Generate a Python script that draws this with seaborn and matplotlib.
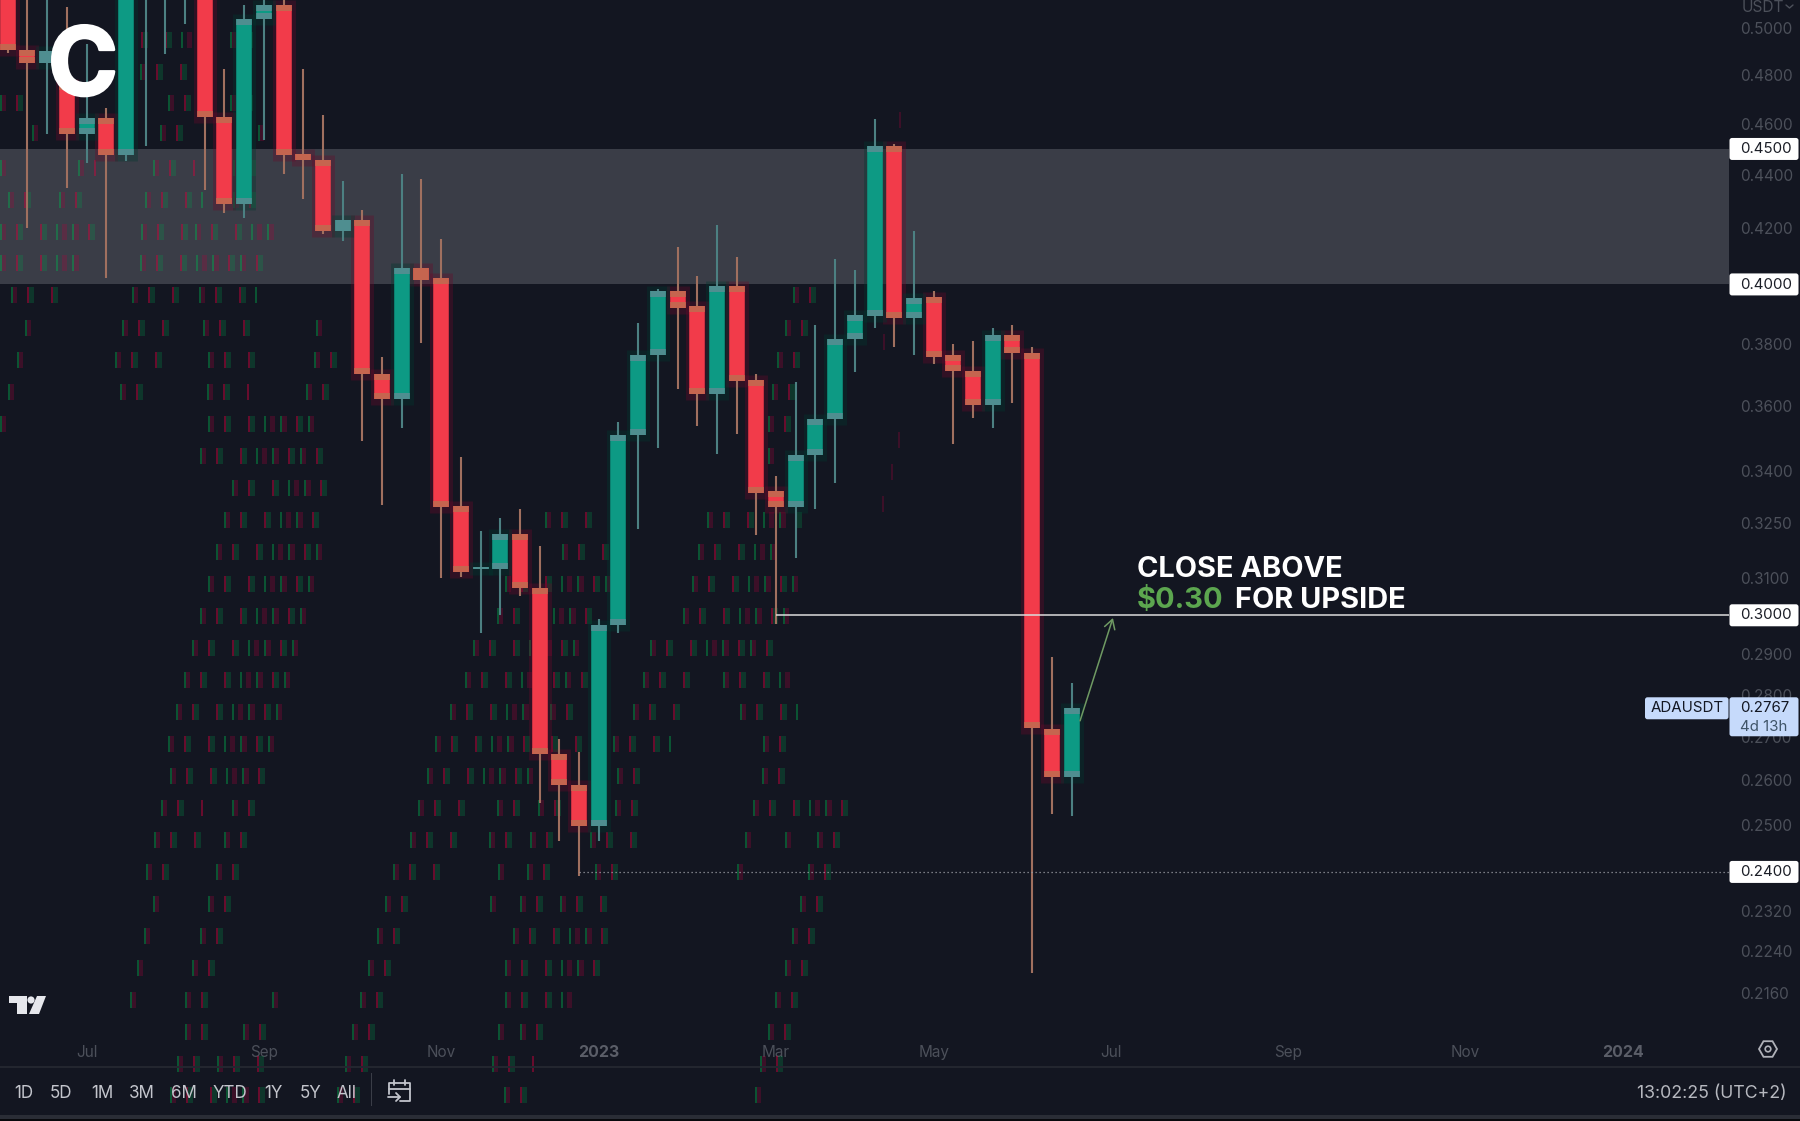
import matplotlib
matplotlib.use("Agg")
import matplotlib.pyplot as plt
import matplotlib.patheffects as pe
import numpy as np
import pandas as pd
import seaborn as sns
from matplotlib.collections import PolyCollection
from matplotlib.lines import Line2D
from matplotlib.patches import Circle, FancyBboxPatch, Polygon, Rectangle, RegularPolygon
from matplotlib.transforms import IdentityTransform

# ------------------------------------------------------------------ data
opens = [.5300,.4903,.4848,.4760,.4557,.4621,.4475,.5200,.5200,.5250,.5500,.4625,.4288,.5037,.5098,
         .4479,.4457,.4192,.4229,.3699,.3620,.4056,.4021,.3299,.3123,.3124,.3219,.3072,.2660,.2589,
         .2498,.2975,.3508,.3761,.3976,.3924,.3636,.3993,.3682,.3341,.3296,.3448,.3559,.3813,.3890,
         .4510,.3884,.3955,.3761,.3709,.3601,.3827,.3767,.2718,.2606]
closes = [.4903,.4848,.4899,.4557,.4621,.4475,.5400,.5500,.5400,.5500,.4625,.4288,.5037,.5098,.4475,
          .4457,.4192,.4229,.3699,.3620,.4056,.4017,.3296,.3115,.3128,.3219,.3072,.2660,.2589,.2498,
          .2975,.3508,.3761,.3976,.3920,.3636,.3993,.3679,.3338,.3296,.3448,.3559,.3813,.3894,.4510,
          .3884,.3952,.3757,.3709,.3601,.3827,.3767,.2720,.2606,.2767]
highs = [.5600,.5400,.5300,.5090,.4928,.4662,.5600,.5700,.5600,.5700,.5600,.4822,.5098,.5200,.5200,
         .4822,.4634,.4377,.4266,.3757,.4402,.4383,.4162,.3442,.3228,.3264,.3290,.3186,.2694,.2664,
         .2990,.3550,.3868,.3985,.4132,.4028,.4211,.4095,.3699,.3386,.3674,.3863,.4091,.4049,.4617,
         .4520,.4192,.3976,.3797,.3807,.3850,.3863,.3787,.2893,.2829]
lows = [.4890,.4200,.4557,.4348,.4444,.4021,.4453,.4510,.4886,.5015,.4344,.4255,.4237,.4537,.4402,
        .4310,.4178,.4155,.3491,.3301,.3530,.3800,.3099,.3101,.2954,.3000,.3051,.2549,.2466,.2392,
        .2466,.2954,.3233,.3469,.3651,.3536,.3451,.3511,.3216,.2977,.3153,.3290,.3365,.3706,.3850,
        .3787,.3761,.3732,.3481,.3562,.3532,.3607,.2199,.2525,.2520]

price_ticks = [.50,.48,.46,.44,.42,.38,.36,.34,.325,.31,.29,.28,.27,.26,.25,.232,.224,.216]
price_tick_labels = ["0.5000","0.4800","0.4600","0.4400","0.4200","0.3800","0.3600","0.3400","0.3250",
                     "0.3100","0.2900","0.2800","0.2700","0.2600","0.2500","0.2320","0.2240","0.2160"]
level_tags = [.45,.40,.30,.24]
level_tag_labels = ["0.4500","0.4000","0.3000","0.2400"]
zone = (.40,.45)
last_price = .2767

month_pos = [4,13,22,30,39,47,56,65,74,82]
month_labels = ["Jul","Sep","Nov","2023","Mar","May","Jul","Sep","Nov","2024"]
ranges = ["1D","5D","1M","3M","6M","YTD","1Y","5Y","All"]
range_x = [24,61,102,142,184,230,273,311,347]

# compression ghosts of the screenshot: row -> spans of faint ticks
ghost_rows = {
    40:[(125,195),(230,268)], 72:[(140,195)], 103:[(0,30),(168,195),(230,268)], 133:[(32,42),(160,195),(258,272)],
    168:[(0,10),(78,96),(153,195),(233,264)], 200:[(8,38),(59,98),(145,207),(233,256)],
    232:[(0,92),(141,184),(195,272)], 263:[(0,88),(140,264)], 295:[(11,63),(132,184),(199,256),(793,832)],
    328:[(25,29),(122,176),(203,256),(316,322),(785,823)], 360:[(17,22),(115,168),(208,256),(314,333),(777,815)],
    392:[(8,12),(120,157),(207,249),(306,325),(772,807)], 424:[(0,8),(208,318),(768,800)], 456:[(200,330),(768,775)],
    488:[(232,328)], 520:[(224,320),(545,590),(707,800)], 552:[(216,318),(562,610),(698,780)],
    584:[(208,312),(505,607),(692,800)], 616:[(200,303),(497,597),(683,790)], 648:[(192,295),(473,587),(650,783)],
    680:[(184,287),(465,587),(643,697),(723,790)], 712:[(176,279),(450,577),(633,680),(740,800)],
    744:[(168,272),(435,583),(613,672),(763,800)], 776:[(170,265),(427,533),(617,655),(762,800)],
    808:[(161,203),(232,255),(418,463),(497,517),(538,567),(615,647),(753,847)],
    840:[(154,197),(224,247),(410,455),(489,508),(530,560),(590,638),(745,750),(785,790),(817,837)],
    872:[(146,167),(216,238),(393,447),(498,503),(527,553),(595,625),(737,745),(808,830)],
    904:[(153,158),(208,238),(385,415),(490,495),(520,545),(560,612),(800,822)],
    936:[(144,150),(200,229),(377,407),(513,610),(792,815)], 968:[(137,143),(192,222),(368,398),(505,600),(785,805)],
    1000:[(130,135),(185,223),(272,274),(360,390),(505,575),(775,800)], 1032:[(185,215),(243,270),(352,383),(498,502),(520,542),(768,790)],
    1064:[(177,207),(217,263),(345,367),(492,533),(760,785)], 1095:[(170,268),(337,357),(504,525),(755,765)],
}
ghost_motif = [(0,1.5,'G'),(1.5,4,'r'),(16,2,'R'),(18,5,'g'),(40,2,'R'),(42,5,'g'),
               (56,1.5,'G'),(62,5,'r'),(72,1.5,'G'),(74,5,'r'),(88,2,'R'),(90,5,'g')]
ghost_colors = {'R':(.84,0,.24,.44),'r':(.70,0,.24,.26),'G':(0,.70,.31,.40),'g':(0,.62,.31,.24)}
ghost_lone = [(899,120),(883,342),(898,440),(891,472),(882,504)]

# ------------------------------------------------------------------ style
BG = '#131621'
RED, GREEN = '#F23B4A', '#0D9A84'
RED_WICK, GREEN_WICK = '#A0705F', '#4C8082'
RED_END, GREEN_END = '#C5654F', '#4F8E90'
AXIS = '#4C505A'
W, H = 1800, 1121

sns.set_theme(style='dark', rc={'axes.facecolor':BG,'figure.facecolor':BG,'savefig.facecolor':BG,
                                'axes.grid':False,'xtick.bottom':False,'ytick.left':False})
plt.rcParams['font.family'] = ['Inter','DejaVu Sans']

fig = plt.figure(figsize=(W/100+.001,H/100+.001),dpi=100)
ax = fig.add_axes([0,(H-1067)/H,1729/W,1067/H])
ax.set_yscale('log')
for s in ax.spines.values():
    s.set_visible(False)

n = len(opens)
idx = np.arange(n)
o,c,hi,lo = map(np.array,(opens,closes,highs,lows))
direction = np.where(c>=o,'up','down')
pal = {'up':GREEN,'down':RED}
wick_pal = {'up':GREEN_WICK,'down':RED_WICK}

def segs(a,b):
    return pd.DataFrame({'week':np.r_[idx,idx],'price':np.r_[a,b],'candle':np.r_[idx,idx],'dir':np.r_[direction,direction]})

common = dict(x='week',y='price',units='candle',hue='dir',estimator=None,sort=False,errorbar=None,
              legend=False,ax=ax,solid_capstyle='butt')
top,bot = np.maximum(o,c),np.minimum(o,c)
halo_t,halo_b = top*np.exp(5/1150),bot/np.exp(6/1150)
sns.lineplot(data=segs(halo_b,halo_t),palette={'up':'#003A30','down':'#6A0A2A'},linewidth=16.5,alpha=.35,zorder=3,**common)
sns.lineplot(data=segs(lo,hi),palette=wick_pal,linewidth=1.5,zorder=4,**common)
sns.lineplot(data=segs(bot,top),palette=pal,linewidth=11.2,zorder=5,**common)
cap = np.minimum(np.exp(6/1150),np.sqrt(top/bot))
sns.lineplot(data=segs(top/cap,top),palette={'up':GREEN_END,'down':RED_END},linewidth=11.2,zorder=6,**common)
sns.lineplot(data=segs(bot,bot*cap),palette={'up':GREEN_END,'down':RED_END},linewidth=11.2,zorder=6,**common)

x_left,x_right = -7.7/19.7,(1729-7.7)/19.7
y_top = .4*np.exp(284.5/1150)
y_bot = .4*np.exp((284.5-1067)/1150)
ax.set_xlim(x_left,x_right)
ax.set_ylim(y_bot,y_top)

ax.axhspan(zone[0],zone[1],color='#3A3D47',lw=0,zorder=1)
ax.plot([39,x_right],[level_tags[2]]*2,color='#DCDCDC',lw=1.1,zorder=7,solid_capstyle='butt')
ax.plot([29,x_right],[level_tags[3]]*2,color='#9A9CA3',lw=.9,ls=(0,(1,2.2)),zorder=7)

# faint ghost ticks
verts,cols = [],[]
for y,spans in ghost_rows.items():
    for x0,x1 in spans:
        base = 0
        while x0+base < x1:
            for off,w,k in ghost_motif:
                xa = x0+base+off
                if xa >= x1:
                    break
                verts.append([(xa,H-y+8),(xa+w,H-y+8),(xa+w,H-y-8),(xa,H-y-8)])
                cols.append(ghost_colors[k])
            base += 100
for x,y in ghost_lone:
    verts.append([(x,H-y+8),(x+1.5,H-y+8),(x+1.5,H-y-8),(x,H-y-8)])
    cols.append(ghost_colors['r'])
ax.add_collection(PolyCollection(verts,facecolors=cols,edgecolors='none',transform=IdentityTransform(),
                                 clip_on=False,zorder=2),autolim=False)

# axes
ax.set_xlabel(''); ax.set_ylabel('')
ax.yaxis.tick_right()
ax.set_yticks(price_ticks,labels=price_tick_labels)
ax.minorticks_off()
ax.tick_params(axis='y',which='major',length=0,pad=8,labelsize=11,labelcolor=AXIS,left=False,right=False)
ax.set_xticks(month_pos,labels=month_labels)
ax.tick_params(axis='x',length=0,pad=-16,labelsize=11,labelcolor=AXIS,bottom=False)
for t,l in zip(ax.get_xticklabels(),month_labels):
    if l.isdigit():
        t.set_fontweight('bold'); t.set_color('#5B5E68'); t.set_fontsize(11.5)
for t in ax.get_xticklabels()+ax.get_yticklabels():
    t.set_zorder(8)

# annotation
ax.annotate('',xy=(56.1,.2993),xytext=(54.43,.2737),zorder=8,
            arrowprops=dict(arrowstyle='->,head_length=0.55,head_width=0.32',color='#6F9A63',lw=1.1,shrinkA=0,shrinkB=0))
ax.text(57.3,.3103,'CLOSE ABOVE',color='white',fontsize=20.9,fontweight='bold',va='baseline',zorder=9)
ax.text(57.3,.3019,'$0.30',color='#5CA64F',fontsize=20.9,fontweight='bold',va='baseline',zorder=9)
ax.text(62.28,.3019,'FOR UPSIDE',color='white',fontsize=20.9,fontweight='bold',va='baseline',zorder=9)

# ---- pixel helpers
T = IdentityTransform()
def ptxt(x,y,s,size,color,ha='left',va='center',**kw):
    fig.text(x,H-y,s,fontsize=size*.72,color=color,ha=ha,va=va,transform=T,**kw)
def box(x0,y0,x1,y1,fc,z=2):
    fig.add_artist(FancyBboxPatch((x0,H-y1),x1-x0,y1-y0,boxstyle='round,pad=0,rounding_size=2.5',
                                  fc=fc,ec='none',transform=T,zorder=z))
def line(xs,ys,color,lw=1.3):
    fig.add_artist(Line2D(xs,[H-v for v in ys],color=color,lw=lw,transform=T,zorder=3,solid_capstyle='round'))

fig.canvas.draw()
def y_px(p):
    return H-ax.transData.transform((0,p))[1]

for p,l in zip(level_tags,level_tag_labels):
    yy = y_px(p)
    box(1729.5,yy-11,1798.5,yy+11,'white')
    ptxt(1740,yy,l,15,'#1A1D26')

yy = y_px(last_price)
box(1645,yy-11,1728.5,yy+11,'#C6DAFB')
ptxt(1651,yy,'ADAUSDT',15,'#131722')
box(1729.5,yy-11,1798.5,yy+28,'#C6DAFB')
ptxt(1740,yy,'0.2767',15,'#131722')
ptxt(1740,yy+18.5,'4d 13h',15,'#3F5468')

ptxt(1742,7,'USDT',15.5,AXIS)
line([1786,1789.5,1793],[5,8,5],AXIS,1.0)

# bottom bar
fig.add_artist(Rectangle((0,H-1068),W,2,fc='#23262F',ec='none',transform=T,zorder=2))
fig.add_artist(Rectangle((0,0),W,6,fc='#2A2D36',ec='none',transform=T,zorder=2))
fig.add_artist(Rectangle((0,0),W,2,fc='#08090D',ec='none',transform=T,zorder=2))
for x,l in zip(range_x,ranges):
    ptxt(x,1093,l,17,'#C3C5CC',ha='center')
fig.add_artist(Rectangle((370.5,H-1106),1.2,33,fc='#3A3D47',ec='none',transform=T,zorder=2))
ptxt(1787,1093,'13:02:25 (UTC+2)',17.7,'#B6B8BF',ha='right')

# calendar icon
ic = '#C3C5CC'
line([389,389,410,410,400],[1094,1083,1083,1101,1101],ic)
line([389,410],[1089,1089],ic)
line([394,394],[1080,1085],ic); line([405,405],[1080,1085],ic)
line([388,400],[1097,1097],ic); line([396,400,396],[1093,1097,1101],ic)

# gear
fig.add_artist(RegularPolygon((1768,H-1049),6,radius=9,orientation=np.pi/6,fc='none',ec='#B0B2B9',lw=1.3,transform=T,zorder=3))
fig.add_artist(Circle((1768,H-1049),2.8,fc='none',ec='#B0B2B9',lw=1.2,transform=T,zorder=3))

# TradingView mark
tv = '#E6E7EC'
fig.add_artist(Polygon([(9,H-996),(27,H-996),(27,H-1014),(17,H-1014),(17,H-1003),(9,H-1003)],fc=tv,ec='none',transform=T,zorder=3))
fig.add_artist(Circle((31,H-1000),3.6,fc=tv,ec='none',transform=T,zorder=3))
fig.add_artist(Polygon([(37,H-996),(46,H-996),(39,H-1014),(29,H-1014)],fc=tv,ec='none',transform=T,zorder=3))

# site logo
logo = fig.text(83,H-70.5,'C',fontsize=68,color='white',fontweight='bold',ha='center',va='center',transform=T,
                family=['Inter','DejaVu Sans'],zorder=6)
logo.set_path_effects([pe.withStroke(linewidth=2,foreground='white')])

fig.savefig('out.png',dpi=100)
